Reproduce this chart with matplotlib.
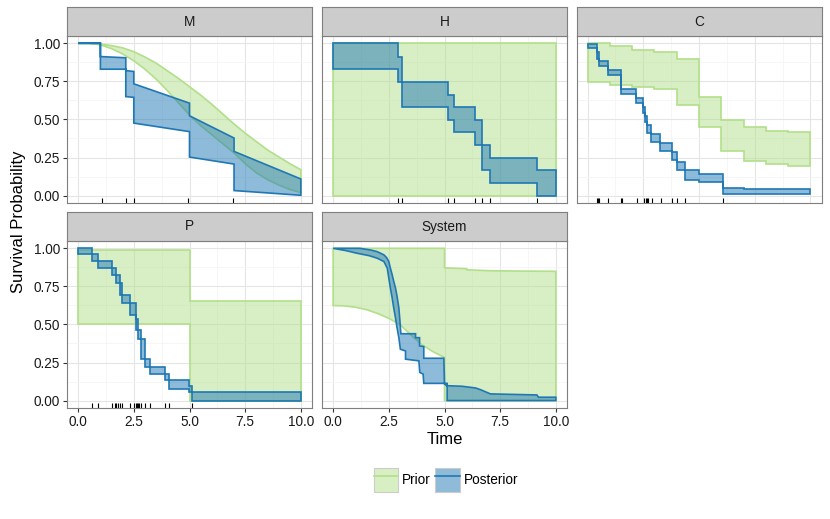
import matplotlib.pyplot as plt
from matplotlib.patches import Patch
from matplotlib.lines import Line2D

plt.rcParams['font.family'] = ['Liberation Sans', 'DejaVu Sans']

PRIOR_COL = '#b2df8a'
POST_COL = '#1f78b4'

panel_names = ['M', 'H', 'C', 'P', 'System']

# ---- M: smooth prior band, posterior with sloped pieces ----
m_prior_x = [0, 0.5, 1, 1.5, 2, 2.5, 3, 3.5, 4, 4.5, 5, 5.5, 6, 6.5, 7, 7.5, 8, 8.5, 9, 9.5, 10]
m_prior_hi = [1.0, 1.0, 0.995, 0.985, 0.97, 0.945, 0.91, 0.87, 0.82, 0.77, 0.715,
              0.66, 0.60, 0.535, 0.47, 0.41, 0.355, 0.30, 0.255, 0.21, 0.17]
m_prior_lo = [1.0, 1.0, 0.99, 0.965, 0.93, 0.885, 0.83, 0.765, 0.69, 0.61, 0.53,
              0.46, 0.40, 0.34, 0.28, 0.21, 0.15, 0.105, 0.07, 0.04, 0.02]
m_post_hi_x = [0, 1.0, 1.0, 2.14, 2.14, 2.5, 2.5, 5.0, 5.0, 7.0, 7.0, 10]
m_post_hi = [1.0, 1.0, 0.913, 0.905, 0.821, 0.815, 0.734, 0.607, 0.524, 0.378, 0.29, 0.109]
m_post_lo_x = [0, 1.0, 1.0, 2.14, 2.14, 2.5, 2.5, 5.0, 5.0, 7.0, 7.0, 10]
m_post_lo = [1.0, 1.0, 0.83, 0.83, 0.65, 0.645, 0.476, 0.42, 0.253, 0.207, 0.033, 0.002]
m_rug = [1.05, 2.15, 2.5, 4.95, 6.95]

# ---- H ----
h_prior_t = []
h_prior_hi = [1.0]
h_prior_lo = [0.0]
h_post_t = [2.91, 3.07, 5.15, 5.42, 6.35, 6.67, 7.06, 9.16]
h_post_hi = [1.0, 0.913, 0.749, 0.662, 0.581, 0.498, 0.33, 0.247, 0.166]
h_post_lo = [0.832, 0.749, 0.581, 0.498, 0.415, 0.33, 0.166, 0.083, 0.0]
h_rug = [2.91, 3.07, 5.15, 5.42, 6.35, 6.67, 7.06, 9.16]

# ---- C ----
c_prior_t = [1, 2, 3, 4, 5, 6, 7, 8, 9]
c_prior_hi = [1.0, 0.983, 0.956, 0.945, 0.897, 0.646, 0.498, 0.448, 0.426, 0.417]
c_prior_lo = [0.749, 0.727, 0.712, 0.699, 0.596, 0.448, 0.295, 0.229, 0.207, 0.197]
c_post_t = [0.42, 0.52, 0.90, 1.49, 2.16, 2.50, 2.58, 2.65, 2.86, 3.27, 3.79, 4.02, 4.35, 4.98, 6.09, 7.0]
c_post_hi = [0.998, 0.94, 0.882, 0.823, 0.703, 0.642, 0.58, 0.52, 0.463, 0.406, 0.347,
             0.288, 0.223, 0.166, 0.14, 0.05, 0.046]
c_post_lo = [0.969, 0.90, 0.849, 0.79, 0.67, 0.607, 0.544, 0.48, 0.413, 0.354, 0.293,
             0.231, 0.166, 0.10, 0.092, 0.012, 0.008]
c_rug = [0.42, 0.48, 0.52, 0.92, 1.49, 1.56, 2.23, 2.53, 2.60, 2.65, 2.71, 2.90,
         3.30, 3.79, 4.02, 4.35, 6.09]

# ---- P ----
p_prior_t = [5]
p_prior_hi = [0.99, 0.655]
p_prior_lo = [0.5, 0.0]
p_post_t = [0.64, 0.87, 1.54, 1.72, 1.87, 1.99, 2.34, 2.58, 2.69, 2.81, 2.99, 3.24,
            3.88, 4.10, 4.97, 5.12]
p_post_hi = [1.0, 0.96, 0.916, 0.873, 0.824, 0.769, 0.692, 0.644, 0.538, 0.462, 0.407,
             0.275, 0.22, 0.176, 0.138, 0.099, 0.059]
p_post_lo = [0.96, 0.916, 0.873, 0.824, 0.769, 0.692, 0.644, 0.56, 0.462, 0.407, 0.275,
             0.22, 0.176, 0.132, 0.077, 0.055, 0.0]
p_rug = [0.64, 0.87, 1.54, 1.65, 1.72, 1.80, 1.87, 1.99, 2.34, 2.50, 2.58, 2.64, 2.69,
         2.75, 2.81, 2.99, 3.24, 3.88, 4.10, 5.12]

# ---- System ----
s_prior_hi_x = [0, 5, 5, 6, 6, 7, 8, 9, 10]
s_prior_hi = [1.0, 1.0, 0.872, 0.866, 0.859, 0.853, 0.851, 0.85, 0.849]
s_prior_lo_x = [0, 0.5, 1, 1.5, 2, 2.5, 3, 3.5, 4, 4.5, 5, 5, 10]
s_prior_lo = [0.624, 0.622, 0.613, 0.597, 0.572, 0.54, 0.5, 0.43, 0.365, 0.32, 0.283, 0.0, 0.0]
s_post_hi_x = [0, 1.2, 1.68, 1.98, 2.28, 2.4, 2.5, 2.57, 2.65, 2.72, 2.8, 2.87, 2.95, 3.0,
               3.04, 3.70, 3.70, 3.88, 3.88, 4.07, 4.07, 4.97, 5.0, 5.09, 5.79, 6.39, 6.61,
               7.06, 9.15, 9.22, 10]
s_post_hi = [1.0, 1.0, 0.989, 0.978, 0.957, 0.939, 0.913, 0.87, 0.826, 0.783, 0.739, 0.685,
             0.609, 0.522, 0.439, 0.439, 0.413, 0.413, 0.359, 0.355, 0.278, 0.278, 0.11,
             0.098, 0.094, 0.083, 0.072, 0.044, 0.037, 0.022, 0.022]
s_post_lo_x = [0, 0.57, 1.09, 1.61, 1.98, 2.28, 2.43, 2.5, 2.57, 2.65, 2.72, 2.8, 2.87, 2.95,
               3.02, 3.25, 3.25, 3.85, 3.89, 4.04, 4.07, 5.12, 5.12, 10]
s_post_lo = [1.0, 0.985, 0.967, 0.952, 0.935, 0.913, 0.87, 0.804, 0.739, 0.674, 0.609, 0.543,
             0.478, 0.413, 0.337, 0.326, 0.272, 0.261, 0.185, 0.174, 0.113, 0.113, 0.0, 0.0]
s_rug = []

x_ticks = [0, 2.5, 5, 7.5, 10]
x_labels = ['0.0', '2.5', '5.0', '7.5', '10.0']
y_ticks = [0, 0.25, 0.5, 0.75, 1.0]
y_labels = ['0.00', '0.25', '0.50', '0.75', '1.00']


def steps(events, values, end=10.0):
    xs, ys = [0.0], [values[0]]
    for t, v0, v1 in zip(events, values[:-1], values[1:]):
        xs += [t, t]
        ys += [v0, v1]
    xs.append(end)
    ys.append(values[-1])
    return xs, ys


def band(ax, hx, hy, lx, ly, col):
    px = list(hx) + list(lx)[::-1]
    py = list(hy) + list(ly)[::-1]
    ax.fill(px, py, facecolor=col, alpha=0.5, edgecolor='none')
    ax.fill(px, py, facecolor='none', edgecolor=col, lw=1.2, joinstyle='miter')


data = {
    'M': ((m_prior_x, m_prior_hi, m_prior_x, m_prior_lo),
          (m_post_hi_x, m_post_hi, m_post_lo_x, m_post_lo), m_rug),
    'H': (steps(h_prior_t, h_prior_hi) + steps(h_prior_t, h_prior_lo),
          steps(h_post_t, h_post_hi) + steps(h_post_t, h_post_lo), h_rug),
    'C': (steps(c_prior_t, c_prior_hi) + steps(c_prior_t, c_prior_lo),
          steps(c_post_t, c_post_hi) + steps(c_post_t, c_post_lo), c_rug),
    'P': (steps(p_prior_t, p_prior_hi) + steps(p_prior_t, p_prior_lo),
          steps(p_post_t, p_post_hi) + steps(p_post_t, p_post_lo), p_rug),
    'System': ((s_prior_hi_x, s_prior_hi, s_prior_lo_x, s_prior_lo),
               (s_post_hi_x, s_post_hi, s_post_lo_x, s_post_lo), s_rug),
}

W, H = 830, 519
fig = plt.figure(figsize=(W / 100, H / 100), dpi=100)


def rect(left, top, w, h):
    return [left / W, 1 - (top + h) / H, w / W, h / H]


col_left = [67, 322, 576.5]
panel_w = 245
row_top = [35.7, 240.7]
panel_h = 167.5
strip_h = 28.4

for i, name in enumerate(panel_names):
    r, c = divmod(i, 3)
    ax = fig.add_axes(rect(col_left[c], row_top[r], panel_w, panel_h))
    prior, post, rug = data[name]
    band(ax, *prior, PRIOR_COL)
    band(ax, *post, POST_COL)
    if rug:
        ax.vlines(rug, 0, 0.03, transform=ax.get_xaxis_transform(), color='black', lw=0.8)

    ax.set_xlim(-0.5, 10.5)
    ax.set_ylim(-0.05, 1.05)
    ax.set_xticks(x_ticks)
    ax.set_yticks(y_ticks)
    ax.set_xticks([1.25, 3.75, 6.25, 8.75], minor=True)
    ax.set_yticks([0.125, 0.375, 0.625, 0.875], minor=True)
    ax.grid(which='major', color='#e5e5e5', lw=0.8)
    ax.grid(which='minor', color='#f5f5f5', lw=0.6)
    ax.set_axisbelow(True)
    ax.tick_params(which='minor', length=0)
    ax.tick_params(which='major', length=3, width=0.8, color='#333333',
                   labelsize=9.8, labelcolor='#1a1a1a', pad=2)
    if r == 1:
        ax.set_xticklabels(x_labels)
    else:
        ax.tick_params(axis='x', length=0, labelbottom=False)
    if c == 0:
        ax.set_yticklabels(y_labels)
    else:
        ax.tick_params(axis='y', length=0, labelleft=False)
    for sp in ax.spines.values():
        sp.set_color('#7f7f7f')
        sp.set_linewidth(0.8)

    sax = fig.add_axes(rect(col_left[c], row_top[r] - strip_h, panel_w, strip_h))
    sax.set_facecolor('#cccccc')
    sax.set_xticks([])
    sax.set_yticks([])
    for sp in sax.spines.values():
        sp.set_color('#7f7f7f')
        sp.set_linewidth(0.8)
    sax.text(0.5, 0.5, name, ha='center', va='center', fontsize=9.8, color='#1a1a1a',
             transform=sax.transAxes)

fig.text(18 / W, 1 - 222 / H, 'Survival Probability', rotation=90, ha='center', va='center',
         fontsize=12)
fig.text(445 / W, 1 - 439 / H, 'Time', ha='center', va='center', fontsize=12)

handles = [
    (Patch(facecolor='#d8efc4', edgecolor='#cccccc', lw=0.8), Line2D([], [], color=PRIOR_COL, lw=1.2)),
    (Patch(facecolor='#8fbbd9', edgecolor='#cccccc', lw=0.8), Line2D([], [], color=POST_COL, lw=1.2)),
]
fig.legend(handles, ['Prior', 'Posterior'], loc='center', bbox_to_anchor=(446 / W, 1 - 480 / H),
           ncol=2, frameon=False, fontsize=9.8, handlelength=1.8, handleheight=2.4,
           handletextpad=0.3, columnspacing=0.3, borderpad=0)

fig.savefig('out.png', dpi=100)
